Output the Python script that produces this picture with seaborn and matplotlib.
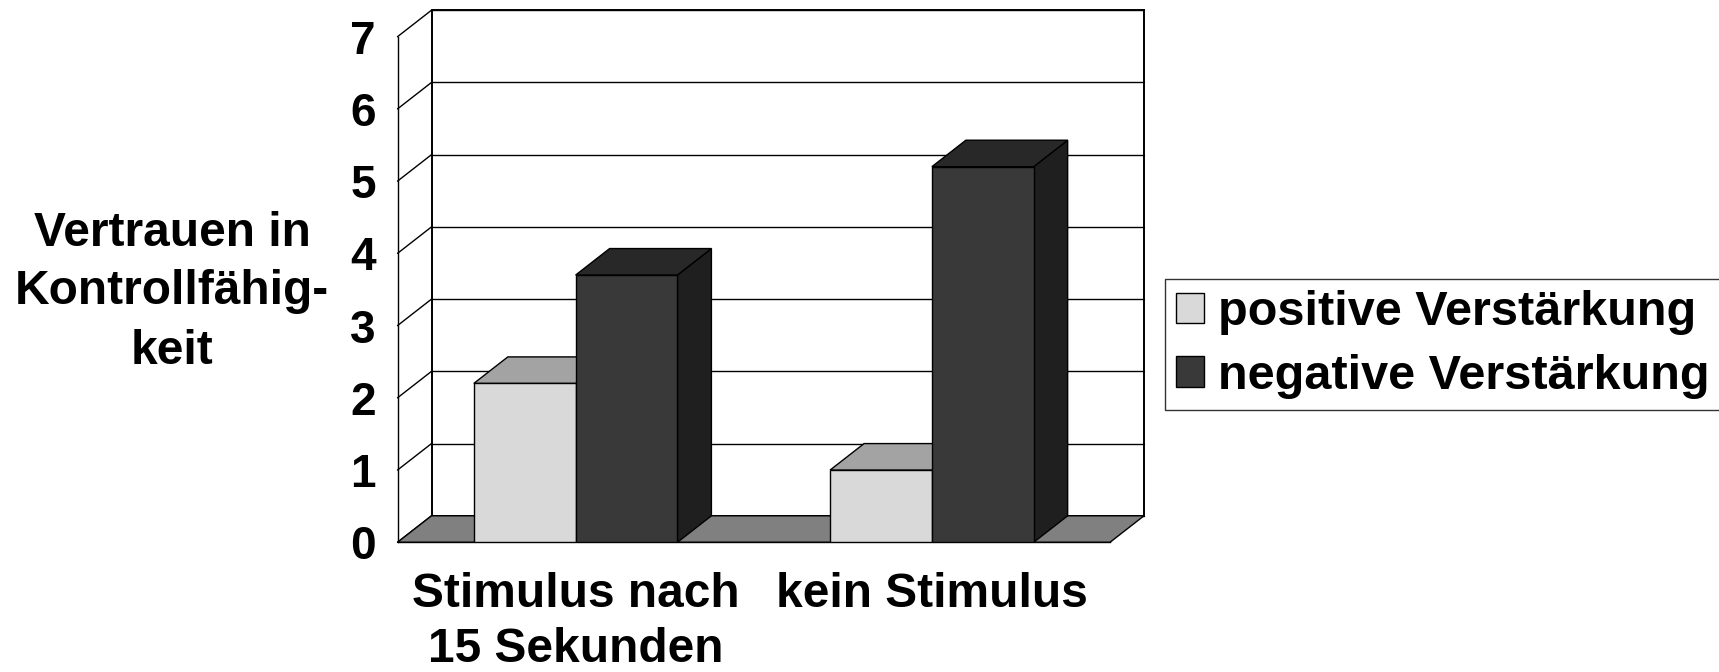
import matplotlib
matplotlib.use("Agg")
import matplotlib.pyplot as plt
from matplotlib.patches import Polygon, Rectangle, Patch
import seaborn as sns
import pandas as pd

# ---- data ----
categories = ["Stimulus nach\n15 Sekunden", "kein Stimulus"]
series = ["positive Verstärkung", "negative Verstärkung"]
positive = [2.2, 1.0]
negative = [3.7, 5.2]
y_ticks = [0, 1, 2, 3, 4, 5, 6, 7]
y_label = "Vertrauen in\nKontrollfähig-\nkeit"

front_colors = ["#d9d9d9", "#393939"]
top_colors = ["#a3a3a3", "#282828"]
side_colors = ["#bdbdbd", "#1f1f1f"]
floor_color = "#808080"

df = pd.DataFrame({
    "cat": categories * 2,
    "series": [series[0]] * 2 + [series[1]] * 2,
    "val": positive + negative,
})

sns.set_style("white")
plt.rcParams["font.family"] = ["Liberation Sans", "DejaVu Sans"]
plt.rcParams["font.weight"] = "bold"
for key in ["text.color", "axes.labelcolor", "xtick.color", "ytick.color", "axes.edgecolor"]:
    plt.rcParams[key] = "black"

W, H = 1719, 672
fig = plt.figure(figsize=(W / 100, H / 100), dpi=100)
x0_px, x1_px = 397.5, 1110.0
ytop_px, ybot_px = 36.7, 542.3
ax = fig.add_axes([x0_px / W, (H - ybot_px) / H, (x1_px - x0_px) / W, (ybot_px - ytop_px) / H])
ax.patch.set_alpha(0)

# depth offset in data units
dx = 34.0 / ((x1_px - x0_px) / 2)
dy = 26.5 / ((ybot_px - ytop_px) / 7)
lw = 1.0

sns.barplot(data=df, x="cat", y="val", hue="series", order=categories,
            hue_order=series, palette=front_colors, width=2 / 3.5, gap=0,
            dodge=True, edgecolor="black", linewidth=lw, legend=False,
            saturation=1, ax=ax, zorder=3)

ax.set_xlim(-0.5, 1.5)
ax.set_ylim(0, 7)
xl, xr = -0.5, 1.5
ymax = 7

# back wall
ax.add_patch(Rectangle((xl + dx, dy), xr - xl, ymax, facecolor="white",
                       edgecolor="black", lw=1.4, zorder=0.5, clip_on=False))
for k in y_ticks:
    ax.plot([xl + dx, xr + dx], [k + dy, k + dy], color="black", lw=lw, zorder=0.6, clip_on=False)
    ax.plot([xl, xl + dx], [k, k + dy], color="black", lw=lw, zorder=0.6, clip_on=False)
# floor
ax.add_patch(Polygon([(xl, 0), (xr, 0), (xr + dx, dy), (xl + dx, dy)], closed=True,
                     facecolor=floor_color, edgecolor="black", lw=lw, zorder=0.7, clip_on=False))

# 3D tops and sides of bars
for i, cont in enumerate(ax.containers):
    for bar in cont:
        bx = bar.get_x()
        bw = bar.get_width()
        bh = bar.get_height()
        bar.set_zorder(3)
        top = Polygon([(bx, bh), (bx + bw, bh), (bx + bw + dx, bh + dy), (bx + dx, bh + dy)],
                      closed=True, facecolor=top_colors[i], edgecolor="black", lw=lw,
                      zorder=2, clip_on=False)
        side = Polygon([(bx + bw, 0), (bx + bw + dx, dy), (bx + bw + dx, bh + dy), (bx + bw, bh)],
                       closed=True, facecolor=side_colors[i], edgecolor="black", lw=lw,
                       zorder=2, clip_on=False)
        ax.add_patch(side)
        ax.add_patch(top)

# spines and ticks
sns.despine(ax=ax, top=True, right=True)
for s in ["left", "bottom"]:
    ax.spines[s].set_color("black")
    ax.spines[s].set_linewidth(lw)
    ax.spines[s].set_zorder(2.5)

ax.set_yticks(y_ticks)
ax.set_yticklabels([str(t) for t in y_ticks], fontsize=33, fontweight="bold", color="black")
ax.tick_params(axis="y", direction="out", length=7.5, width=lw, color="black", pad=8)

ax.set_xticks([-0.5, 0.5, 1.5])
ax.set_xticklabels(["", "", ""])
ax.tick_params(axis="x", which="major", direction="out", length=8, width=lw, color="black")
ax.set_xticks([0, 1], minor=True)
ax.set_xticklabels(categories, minor=True, fontsize=34.5, fontweight="bold",
                   linespacing=1.27, color="black")
ax.tick_params(axis="x", which="minor", length=0, pad=21.5)
ax.set_xlabel("")

ax.set_ylabel(y_label, rotation=0, fontsize=34.5, fontweight="bold", color="black",
              ha="center", va="center", linespacing=1.4)
ax.yaxis.set_label_coords((172 - x0_px) / (x1_px - x0_px), (ybot_px - 292) / (ybot_px - ytop_px))

# legend
handles = [Patch(facecolor=front_colors[i], edgecolor="black", lw=lw, label=series[i]) for i in range(2)]
leg = fig.legend(handles=handles, loc="upper left", bbox_to_anchor=(1165 / W, 1 - 279 / H),
                 prop={"weight": "bold", "size": 35}, frameon=True, fancybox=False,
                 shadow=False, borderpad=0.23, handlelength=0.58, handleheight=0.58,
                 handletextpad=0.27, labelspacing=0.38, borderaxespad=0)
leg.get_frame().set_edgecolor("black")
leg.get_frame().set_linewidth(lw)
for t in leg.get_texts():
    t.set_color("black")

fig.savefig("out.png", dpi=100)
